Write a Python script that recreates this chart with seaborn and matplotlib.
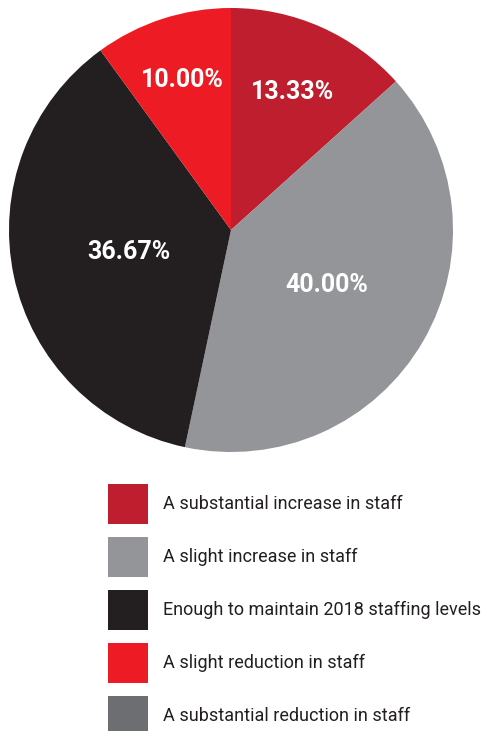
import numpy as np
import matplotlib
matplotlib.use("Agg")
import matplotlib.pyplot as plt
import seaborn as sns
from matplotlib.patches import Patch

categories = [
    "A substantial increase in staff",
    "A slight increase in staff",
    "Enough to maintain 2018 staffing levels",
    "A slight reduction in staff",
    "A substantial reduction in staff",
]
values = [13.33, 40.00, 36.67, 10.00, 0.00]
pct_labels = ["13.33%", "40.00%", "36.67%", "10.00%", ""]
colors = ["#BE1E2D", "#939598", "#231F20", "#ED1C24", "#6D6E71"]
label_radius = [0.68, 0.50, 0.47, 0.71, 0.6]

sns.set_theme(style="white")
plt.rcParams['font.family'] = ['Roboto', 'DejaVu Sans']

W, H = 488, 731
fig = plt.figure(figsize=(W / 100, H / 100), dpi=100)
fig.patch.set_facecolor("white")

ax = fig.add_axes([9 / W, 279 / H, 444 / W, 444 / H])
wedges, _ = ax.pie(values, colors=colors, startangle=90, counterclock=False,
                   radius=1.0, wedgeprops=dict(linewidth=0))
ax.set_xlim(-1, 1)
ax.set_ylim(-1, 1)
ax.set_aspect("equal")
ax.axis("off")

total = sum(values)
cum = 0.0
for v, lab, r in zip(values, pct_labels, label_radius):
    mid = (cum + v / 2) / total * 2 * np.pi
    cum += v
    if not lab:
        continue
    x = r * np.sin(mid)
    y = r * np.cos(mid)
    ax.text(x, y, lab, ha="center", va="center", color="white",
            fontsize=18, fontweight="bold")

handles = [Patch(facecolor=c, edgecolor="none") for c in colors]
fs = 13
fpx = fs * 100 / 72
box = 40 / fpx  # desired visible square in font units
hh = (box - 0.245) / 0.65
leg = fig.legend(handles, categories, loc="upper left",
                 bbox_to_anchor=(108 / W, 1 - 484 / H),
                 frameon=False, fontsize=fs, borderpad=0, borderaxespad=0,
                 handlelength=box, handleheight=hh,
                 labelspacing=13 / fpx, handletextpad=15 / fpx)
for t in leg.get_texts():
    t.set_color("#231F20")

fig.savefig("out.png", dpi=100, facecolor="white")
